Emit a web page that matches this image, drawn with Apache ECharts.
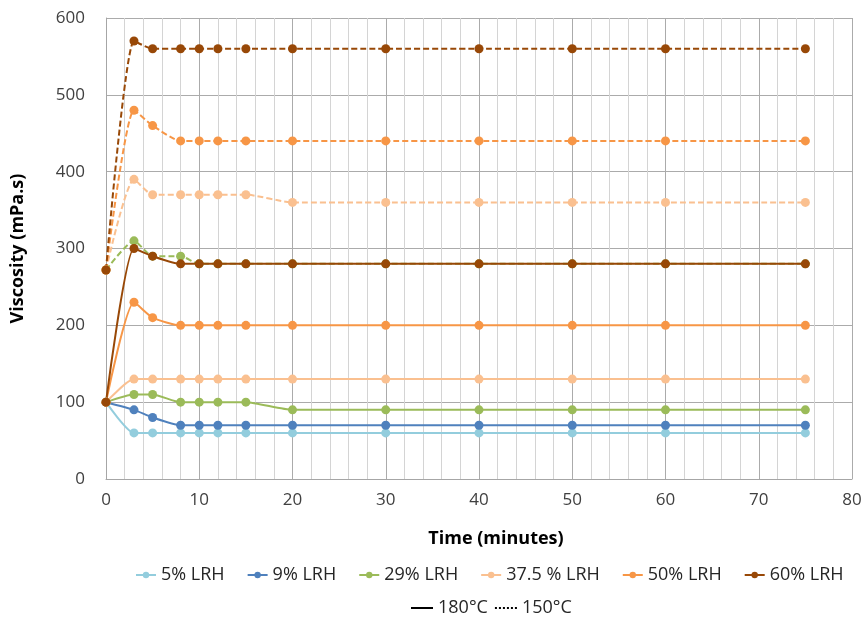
<!DOCTYPE html>
<html lang="en">
<head>
<meta charset="UTF-8">
<title>Viscosity vs time</title>
<script src="https://cdn.jsdelivr.net/npm/echarts@6.0.0/dist/echarts.min.js"></script>
<style>
  html, body { margin: 0; padding: 0; background: #fff; }
  #chart { width: 866px; height: 621px; }
</style>
</head>
<body>
<div id="chart"></div>
<script>
// time points (minutes)
var times = [0, 3, 5, 8, 10, 12, 15, 20, 30, 40, 50, 60, 75];

// 180°C (solid lines)
var lrh5_180  = [100, 60, 60, 60, 60, 60, 60, 60, 60, 60, 60, 60, 60];
var lrh9_180  = [100, 90, 80, 70, 70, 70, 70, 70, 70, 70, 70, 70, 70];
var lrh29_180 = [100, 110, 110, 100, 100, 100, 100, 90, 90, 90, 90, 90, 90];
var lrh375_180 = [100, 130, 130, 130, 130, 130, 130, 130, 130, 130, 130, 130, 130];
var lrh50_180 = [100, 230, 210, 200, 200, 200, 200, 200, 200, 200, 200, 200, 200];
var lrh60_180 = [100, 300, 290, 280, 280, 280, 280, 280, 280, 280, 280, 280, 280];

// 150°C (dashed lines)
var lrh29_150 = [272, 310, 290, 290, 280, 280, 280, 280, 280, 280, 280, 280, 280];
var lrh375_150 = [272, 390, 370, 370, 370, 370, 370, 360, 360, 360, 360, 360, 360];
var lrh50_150 = [272, 480, 460, 440, 440, 440, 440, 440, 440, 440, 440, 440, 440];
var lrh60_150 = [272, 570, 560, 560, 560, 560, 560, 560, 560, 560, 560, 560, 560];

var names = ['5% LRH', '9% LRH', '29% LRH', '37.5 % LRH', '50% LRH', '60% LRH'];
var colors = ['#93CDDD', '#4F81BD', '#9BBB59', '#FAC090', '#F79646', '#984807'];

function pairs(vals) {
  return times.map(function (t, i) { return [t, vals[i]]; });
}

function line(idx, vals, dashed) {
  return {
    name: names[idx],
    type: 'line',
    data: pairs(vals),
    smooth: 0.2,
    symbol: 'circle',
    symbolSize: 9,
    color: colors[idx],
    lineStyle: { width: 2, type: dashed ? [6, 3] : 'solid' },
    itemStyle: { color: colors[idx] },
    z: dashed ? 2 : 3
  };
}

var series = [
  line(0, lrh5_180, false),
  line(1, lrh9_180, false),
  line(2, lrh29_180, false),
  line(3, lrh375_180, false),
  line(4, lrh50_180, false),
  line(5, lrh60_180, false),
  line(2, lrh29_150, true),
  line(3, lrh375_150, true),
  line(4, lrh50_150, true),
  line(5, lrh60_150, true),
  { name: '180°C', type: 'line', data: [], symbol: 'none', color: '#000',
    lineStyle: { color: '#000', width: 2, type: 'solid' } },
  { name: '150°C', type: 'line', data: [], symbol: 'none', color: '#000',
    lineStyle: { color: '#000', width: 1.5, type: [2, 2] } }
];

var fontFam = 'Open Sans, Noto Sans, sans-serif';

var chart = echarts.init(document.getElementById('chart'));
chart.setOption({
  animation: false,
  backgroundColor: '#fff',
  textStyle: { fontFamily: fontFam },
  grid: { left: 106, right: 14, top: 18, bottom: 142 },
  title: {
    text: 'Time (minutes)',
    left: 491,
    top: 525,
    textAlign: 'center',
    textStyle: { fontSize: 18, fontWeight: 'bold', color: '#000', fontFamily: fontFam }
  },
  legend: [{
    data: names,
    left: 130,
    top: 561,
    itemGap: 22,
    itemWidth: 20,
    itemHeight: 8,
    textStyle: { fontSize: 18, color: '#262626', fontFamily: fontFam }
  }, {
    data: ['180°C', '150°C'],
    left: 405,
    top: 594,
    itemGap: 6,
    itemWidth: 22,
    itemHeight: 8,
    itemStyle: { opacity: 0 },
    textStyle: { fontSize: 18, color: '#262626', fontFamily: fontFam }
  }],
  xAxis: {
    type: 'value',
    min: 0,
    max: 80,
    interval: 10,
    axisLine: { show: true, lineStyle: { color: '#a6a6a6' } },
    axisTick: { show: false },
    axisLabel: { fontSize: 17, color: '#404040', margin: 13 },
    splitLine: { show: true, lineStyle: { color: '#ababab', width: 1 } },
    minorTick: { show: false, splitNumber: 5 },
    minorSplitLine: { show: true, lineStyle: { color: '#d4d4d4', width: 1 } }
  },
  yAxis: {
    type: 'value',
    min: 0,
    max: 600,
    interval: 100,
    name: 'Viscosity (mPa.s)',
    nameLocation: 'middle',
    nameGap: 79,
    nameTextStyle: { fontSize: 18, fontWeight: 'bold', color: '#000' },
    axisLine: { show: true, lineStyle: { color: '#a6a6a6' } },
    axisTick: { show: false },
    axisLabel: { fontSize: 17, color: '#404040', margin: 21 },
    splitLine: { show: true, lineStyle: { color: '#ababab', width: 1 } }
  },
  series: series
});
</script>
</body>
</html>
